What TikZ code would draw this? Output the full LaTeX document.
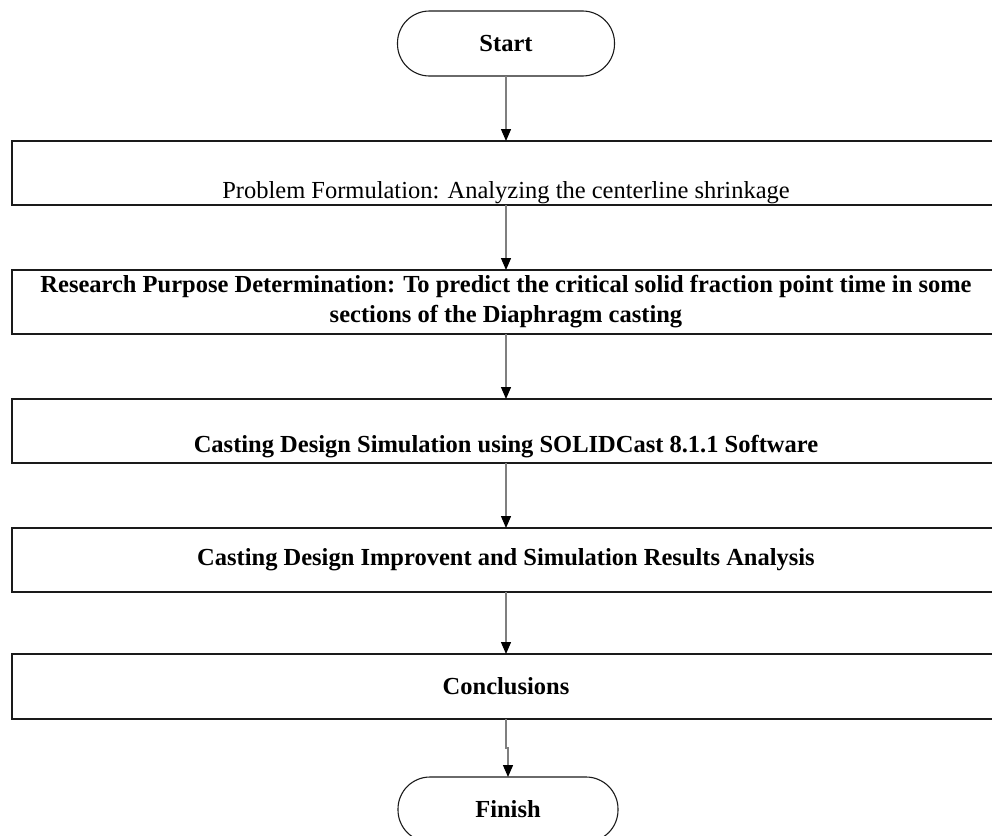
\documentclass[tikz,border=0pt]{standalone}
\usepackage{fontspec}
\setmainfont{Liberation Serif}
\usepackage{tikz}
\usetikzlibrary{positioning,arrows.meta}
\definecolor{linegray}{HTML}{7F7F7F}
\definecolor{edgeblack}{HTML}{1A1A1A}

\begin{document}
\begin{tikzpicture}[
    x=1pt, y=1pt,
    font=\fontsize{24.5}{30}\selectfont,
    node distance=65pt,
    terminal/.style={draw=edgeblack, line width=1.1pt, rounded corners=32pt,
                     minimum width=217pt, minimum height=65pt, inner sep=0pt, outer sep=0pt,
                     font=\fontsize{24.5}{30}\selectfont\bfseries},
    stepbox/.style={draw=edgeblack, line width=1.1pt, minimum width=988pt,
                    minimum height=64pt, inner sep=0pt, outer sep=0pt, align=center},
    arr/.style={draw=linegray, line width=1.3pt,
                -{Triangle[length=12pt, width=10pt, color=black]}}
]
\useasboundingbox (0,0) rectangle (992,-835);
\node[terminal] (start) at (506,-43.5) {Start};
\node[stepbox, below=of start, text height=57pt, text depth=7pt] (problem)
     {Problem Formulation: Analyzing the centerline shrinkage};
\node[stepbox, below=of problem, font=\fontsize{24.5}{30}\selectfont\bfseries] (purpose)
     {Research Purpose Determination: To predict the critical solid fraction point time in some\\sections of the Diaphragm casting};
\node[stepbox, below=of purpose, text height=53pt, text depth=11pt,
      font=\fontsize{24.5}{30}\selectfont\bfseries] (simul)
     {Casting Design Simulation using SOLIDCast 8.1.1 Software};
\node[stepbox, below=of simul, font=\fontsize{24.5}{30}\selectfont\bfseries] (improve)
     {Casting Design Improvent and Simulation Results Analysis};
\node[stepbox, below=62pt of improve, minimum height=65pt,
      font=\fontsize{24.5}{30}\selectfont\bfseries] (concl) {Conclusions};
\node[terminal, below=58pt of concl, xshift=2pt, minimum width=220pt] (finish) {Finish};
% connectors
\draw[arr] (start) -- (problem);
\draw[arr] (problem) -- (purpose);
\draw[arr] (purpose) -- (simul);
\draw[arr] (simul) -- (improve);
\draw[arr] (improve) -- (concl);
\draw[arr] (start.south |- concl.south) -- ++(0,-29) -| (finish.north);
\end{tikzpicture}
\end{document}
